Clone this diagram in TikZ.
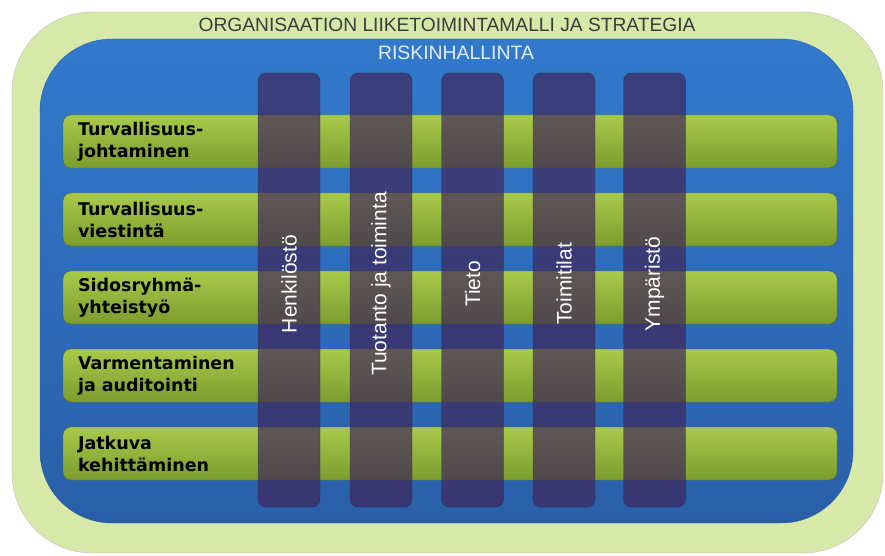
\documentclass[tikz,border=0pt]{standalone}
\usepackage{fontspec}
\setmainfont{Liberation Sans}
\newfontfamily\rowfont{DejaVu Sans}
\usepackage{tikz}

\definecolor{paleGreen}{RGB}{214,233,168}
\definecolor{riskBlue}{RGB}{50,121,204}
\definecolor{riskBlueDark}{RGB}{42,95,168}
\definecolor{barTop}{RGB}{168,202,74}
\definecolor{barBottom}{RGB}{124,156,46}
\definecolor{barEdge}{RGB}{84,110,36}
\definecolor{colFill}{RGB}{63,39,90}
\definecolor{colEdge}{RGB}{36,32,58}
\definecolor{titleGray}{RGB}{60,60,60}
\definecolor{riskText}{RGB}{230,238,248}

\begin{document}
\begin{tikzpicture}[x=1pt, y=1pt, node distance=78pt,
                    outer node/.style={rectangle, rounded corners=80pt, fill=paleGreen, draw=black!25,
                                       minimum width=871pt, minimum height=541pt},
                    risk node/.style={rectangle, rounded corners=72pt, top color=riskBlue, bottom color=riskBlueDark,
                                      draw=riskBlueDark, minimum width=813pt, minimum height=484pt},
                    row node/.style={rectangle, rounded corners=8pt, top color=barTop, bottom color=barBottom,
                                     draw=barEdge, minimum width=774pt, minimum height=53pt},
                    row label/.style={anchor=west, align=left, inner sep=0pt,
                                      font=\rowfont\bfseries\fontsize{17.5}{22}\selectfont},
                    col node/.style={rectangle, rounded corners=8pt, fill=colFill, fill opacity=0.7,
                                     draw=colEdge, draw opacity=0.6, minimum width=62pt, minimum height=434pt},
                    col label/.style={rotate=90, text=white, font=\fontsize{21}{25}\selectfont}]

  \useasboundingbox (0,0) rectangle (885,555);

  \node[outer node] (org) at (447.5,272.5) {};
  \node[risk node] (risk) at (446.5,274) {};
  \node[text=titleGray, font=\fontsize{19.2}{22}\selectfont] (orgt) at (447,530.5)
    {ORGANISAATION LIIKETOIMINTAMALLI JA STRATEGIA};
  \node[text=riskText, font=\fontsize{19.4}{22}\selectfont] (riskt) at (456,502) {RISKINHALLINTA};

  % rows
  \node[row node] (r1) at (450,413.5) {};
  \node[row node] (r2) [below of=r1] {};
  \node[row node] (r3) [below of=r2] {};
  \node[row node] (r4) [below of=r3] {};
  \node[row node] (r5) [below of=r4] {};

  \node[row label] (t1) at ([xshift=15pt]r1.west) {Turvallisuus-\\johtaminen};
  \node[row label] (t2) at ([xshift=15pt]r2.west) {Turvallisuus-\\viestintä};
  \node[row label] (t3) at ([xshift=15pt]r3.west) {Sidosryhmä-\\yhteistyö};
  \node[row label] (t4) at ([xshift=15pt]r4.west) {Varmentaminen\\ja auditointi};
  \node[row label] (t5) at ([xshift=15pt]r5.west) {Jatkuva\\kehittäminen};

  % columns
  \node[col node] (c1) at (289,265) {};
  \node[col node] (c2) [right of=c1, node distance=92pt] {};
  \node[col node] (c3) [right of=c2, node distance=91.5pt] {};
  \node[col node] (c4) [right of=c3, node distance=91.5pt] {};
  \node[col node] (c5) [right of=c4, node distance=90.5pt] {};

  \node[col label] (l1) at ([yshift=6pt]c1) {Henkilöstö};
  \node[col label] (l2) at ([yshift=6pt]c2) {Tuotanto ja toiminta};
  \node[col label] (l3) at ([yshift=6pt]c3) {Tieto};
  \node[col label] (l4) at ([yshift=6pt]c4) {Toimitilat};
  \node[col label] (l5) at ([yshift=6pt]c5) {Ympäristö};
\end{tikzpicture}
\end{document}
